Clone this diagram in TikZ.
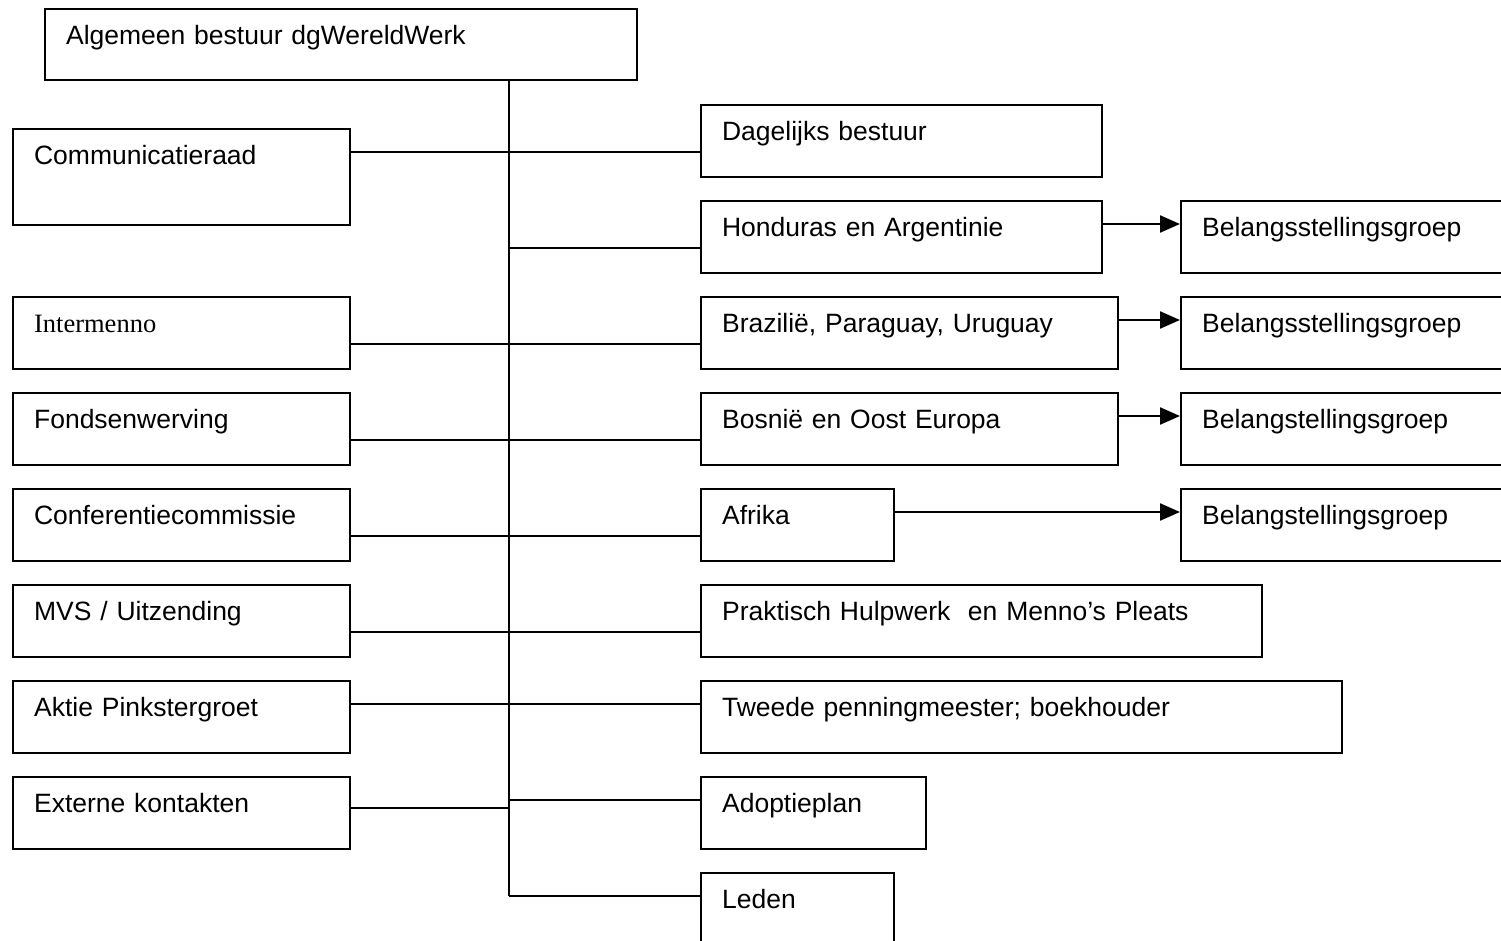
\documentclass[tikz,border=0pt]{standalone}
\usepackage{fontspec}
\setmainfont{Liberation Sans}
\newfontfamily\timesfont{Liberation Serif}
\usetikzlibrary{arrows.meta}
\tikzset{
  unit/.style 2 args={draw, line width=2.2pt, anchor=north west, inner xsep=21pt, inner ysep=0pt,
    text width=#1, text height=35pt, text depth=#2, align=left,
    font=\fontsize{26.5}{32}\selectfont},
  link/.style={line width=2.2pt},
  feed/.style={line width=2.2pt, -{Triangle[length=20pt,width=17pt]}}
}
\begin{document}
\begin{tikzpicture}[x=1pt,y=-1pt]
      \clip (0,0) rectangle (1501,941);
      \fill[white] (0,0) rectangle (1501,941);
      % bestuur
      \node[unit={550pt}{36pt}] (alg) at (44,8) {Algemeen bestuur dgWereldWerk};
      % linker kolom
      \node[unit={295pt}{61pt}] (comm) at (12,128) {Communicatieraad};
      \node[unit={295pt}{37pt}] (inter) at (12,296) {\timesfont Intermenno};
      \node[unit={295pt}{37pt}] (fonds) at (12,392) {Fondsenwerving};
      \node[unit={295pt}{37pt}] (conf) at (12,488) {Conferentiecommissie};
      \node[unit={295pt}{37pt}] (mvs) at (12,584) {MVS / Uitzending};
      \node[unit={295pt}{37pt}] (aktie) at (12,680) {Aktie Pinkstergroet};
      \node[unit={295pt}{37pt}] (extern) at (12,776) {Externe kontakten};
      % rechter kolom
      \node[unit={359pt}{37pt}] (dag) at (700,104) {Dagelijks bestuur};
      \node[unit={359pt}{37pt}] (hond) at (700,200) {Honduras en Argentinie};
      \node[unit={375pt}{37pt}] (braz) at (700,296) {Brazili\"e, Paraguay, Uruguay};
      \node[unit={375pt}{37pt}] (bosn) at (700,392) {Bosni\"e en Oost Europa};
      \node[unit={151pt}{37pt}] (afr) at (700,488) {Afrika};
      \node[unit={519pt}{37pt}] (prak) at (700,584) {Praktisch Hulpwerk\ \ en Menno’s Pleats};
      \node[unit={599pt}{37pt}] (twee) at (700,680) {Tweede penningmeester; boekhouder};
      \node[unit={183pt}{37pt}] (adopt) at (700,776) {Adoptieplan};
      \node[unit={151pt}{61pt}] (leden) at (700,872) {Leden};
      % groepen
      \node[unit={318pt}{37pt}] (bel1) at (1180,200) {Belangsstellingsgroep};
      \node[unit={318pt}{37pt}] (bel2) at (1180,296) {Belangsstellingsgroep};
      \node[unit={318pt}{37pt}] (bel3) at (1180,392) {Belangstellingsgroep};
      \node[unit={318pt}{37pt}] (bel4) at (1180,488) {Belangstellingsgroep};
      % stam
      \coordinate (c1) at (509,152);
      \coordinate (c2) at (509,248);
      \coordinate (c3) at (509,344);
      \coordinate (c4) at (509,440);
      \coordinate (c5) at (509,536);
      \coordinate (c6) at (509,632);
      \coordinate (c7) at (509,704);
      \coordinate (c8) at (509,808);
      \coordinate (c9) at (509,800);
      \coordinate (bot) at (509,896);
      \begin{scope}[link]
        \draw (alg.south -| bot) to (bot);
        \draw (comm.east |- c1) to (dag.west |- c1);
        \draw (c2) to (hond.west |- c2);
        \draw (inter.east |- c3) to (braz.west |- c3);
        \draw (fonds.east |- c4) to (bosn.west |- c4);
        \draw (conf.east |- c5) to (afr.west |- c5);
        \draw (mvs.east |- c6) to (prak.west |- c6);
        \draw (aktie.east |- c7) to (twee.west |- c7);
        \draw (extern.east |- c8) to (c8);
        \draw (c9) to (adopt.west |- c9);
        \draw (bot) to (leden.west |- bot);
      \end{scope}
      \begin{scope}[feed]
        \draw ([yshift=-24pt]hond.north east) to ([yshift=-24pt]bel1.north west);
        \draw ([yshift=-24pt]braz.north east) to ([yshift=-24pt]bel2.north west);
        \draw ([yshift=-24pt]bosn.north east) to ([yshift=-24pt]bel3.north west);
        \draw ([yshift=-24pt]afr.north east) to ([yshift=-24pt]bel4.north west);
      \end{scope}
    \end{tikzpicture}
\end{document}
